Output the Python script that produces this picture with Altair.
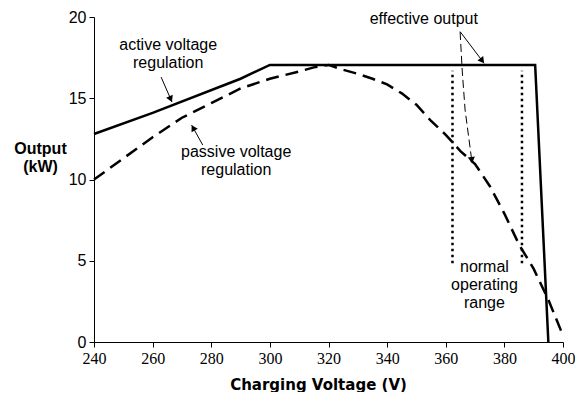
import math
import altair as alt
import pandas as pd

# ---- data ----
active_v = [240, 260, 290, 300, 390.5, 395]
active_kw = [12.8, 14.1, 16.2, 17.05, 17.05, 0.0]

passive_v = [240, 250, 260, 270, 280, 290, 300, 310, 315, 320, 325, 330, 335,
             340, 345, 350, 355, 360, 365, 370, 375, 380, 385, 390, 395, 400]
passive_kw = [10.0, 11.3, 12.6, 13.8, 14.7, 15.6, 16.2, 16.65, 16.9, 17.05, 16.75,
              16.5, 16.2, 15.85, 15.3, 14.6, 13.6, 12.75, 11.75, 10.95, 9.6, 7.9,
              6.0, 4.5, 2.6, 0.4]

range_v = [362.3, 386.0]
range_lo = [4.85, 4.85]
range_hi = [16.7, 16.7]

label_text = ["active voltage\nregulation", "passive voltage\nregulation",
              "effective output", "normal\noperating\nrange"]
label_v = [265.3, 288.5, 352.5, 373.2]
label_kw = [17.97, 11.38, 19.57, 4.33]

arrow_id = ["a1", "a1", "a2", "a2", "a3", "a3", "a4", "a4", "a4", "a4"]
arrow_style = ["solid", "solid", "solid", "solid", "solid", "solid",
               "dashed", "dashed", "dashed", "dashed"]
arrow_v = [262.9, 266.6, 277.1, 273.3, 364.9, 373.1, 364.9, 365.6, 366.6, 369.0]
arrow_kw = [16.3, 14.77, 12.12, 13.35, 19.1, 17.15, 19.08, 16.74, 14.28, 11.0]

x_ticks = [240, 260, 280, 300, 320, 340, 360, 380, 400]
y_ticks = [0, 5, 10, 15, 20]

W, H = 469, 325
X_DOM = [240, 400]
Y_DOM = [0, 20]
px_x = W / (X_DOM[1] - X_DOM[0])
px_y = H / (Y_DOM[1] - Y_DOM[0])

# ---- tables ----
active_df = pd.DataFrame({"v": active_v, "kw": active_kw, "i": range(len(active_v))})
passive_df = pd.DataFrame({"v": passive_v, "kw": passive_kw, "i": range(len(passive_v))})
range_df = pd.DataFrame({"v": range_v, "lo": range_lo, "hi": range_hi})
label_df = pd.DataFrame({"t": label_text, "v": label_v, "kw": label_kw})
arrow_df = pd.DataFrame({"id": arrow_id, "style": arrow_style, "v": arrow_v,
                         "kw": arrow_kw, "i": range(len(arrow_v))})

# arrow heads: at the end of each arrow, rotated along its last segment
heads = []
for aid in dict.fromkeys(arrow_id):
    pts = arrow_df[arrow_df.id == aid]
    (v0, k0), (v1, k1) = pts[["v", "kw"]].values[-2:]
    dx = (v1 - v0) * px_x
    dy = -(k1 - k0) * px_y
    n = math.hypot(dx, dy)
    ang = math.degrees(math.atan2(dx, -dy)) % 360
    back = 3.2
    heads.append({"v": v1 - dx / n * back / px_x,
                  "kw": k1 + dy / n * back / px_y,
                  "ang": ang})
head_df = pd.DataFrame(heads)

xs = alt.Scale(domain=X_DOM, nice=False, zero=False)
ys = alt.Scale(domain=Y_DOM, nice=False, zero=False)

x_axis = alt.Axis(values=x_ticks, format="d", grid=False,
                  labelFont="Liberation Serif", labelFontSize=16, labelColor="black",
                  labelPadding=3, labelFlush=False,
                  tickColor="black", tickSize=5, domainColor="black",
                  title="Charging Voltage (V)", titleFont="DejaVu Sans",
                  titleFontWeight="bold", titleFontSize=15, titleColor="black",
                  titleX=224, titleY=47, titleAlign="center",
                  titleBaseline="alphabetic")
y_axis = alt.Axis(values=y_ticks, grid=False,
                  labelFont="Liberation Sans", labelFontSize=16, labelColor="black",
                  labelPadding=3, labelFlush=False,
                  tickColor="black", tickSize=5, domainColor="black",
                  title=["Output", "(kW)"], titleFont="Liberation Sans",
                  titleFontWeight="bold", titleFontSize=16, titleColor="black",
                  titleAngle=0, titleX=-54, titleY=136, titleAlign="center",
                  titleBaseline="alphabetic", titleLineHeight=18)

active = alt.Chart(active_df).mark_line(color="black", strokeWidth=2.5).encode(
    x=alt.X("v:Q", scale=xs, axis=x_axis),
    y=alt.Y("kw:Q", scale=ys, axis=y_axis),
    order="i:Q",
)

passive = alt.Chart(passive_df).mark_line(color="black", strokeWidth=2.5,
                                          strokeDash=[13, 7]).encode(
    x=alt.X("v:Q", scale=xs),
    y=alt.Y("kw:Q", scale=ys),
    order="i:Q",
)

ranges = alt.Chart(range_df).mark_rule(color="black", strokeWidth=2.5,
                                       strokeDash=[2.5, 3.5]).encode(
    x=alt.X("v:Q", scale=xs),
    y=alt.Y("lo:Q", scale=ys),
    y2="hi:Q",
)

labels = alt.Chart(label_df).mark_text(font="Liberation Sans", fontSize=16,
                                       color="black", align="center",
                                       baseline="alphabetic", lineBreak="\n",
                                       lineHeight=18).encode(
    x=alt.X("v:Q", scale=xs),
    y=alt.Y("kw:Q", scale=ys),
    text="t:N",
)

arrows_solid = alt.Chart(arrow_df[arrow_df["style"] == "solid"]).mark_line(
    color="black", strokeWidth=1).encode(
    x=alt.X("v:Q", scale=xs),
    y=alt.Y("kw:Q", scale=ys),
    detail="id:N",
    order="i:Q",
)
arrows_dashed = alt.Chart(arrow_df[arrow_df["style"] == "dashed"]).mark_line(
    color="black", strokeWidth=1, strokeDash=[8, 4]).encode(
    x=alt.X("v:Q", scale=xs),
    y=alt.Y("kw:Q", scale=ys),
    detail="id:N",
    order="i:Q",
)

arrow_heads = alt.Chart(head_df).mark_point(shape="triangle-up", filled=True,
                                            color="black", size=52, opacity=1).encode(
    x=alt.X("v:Q", scale=xs),
    y=alt.Y("kw:Q", scale=ys),
    angle=alt.Angle("ang:Q", scale=None),
)

chart = alt.layer(active, passive, ranges, arrows_solid, arrows_dashed,
                  arrow_heads, labels).properties(
    width=W, height=H,
    autosize=alt.AutoSizeParams(type="none"),
    padding={"left": 86, "top": 9, "right": 12, "bottom": 50},
).configure_view(stroke=None)

chart.save("out.html", embed_options={"renderer": "svg", "actions": False})
